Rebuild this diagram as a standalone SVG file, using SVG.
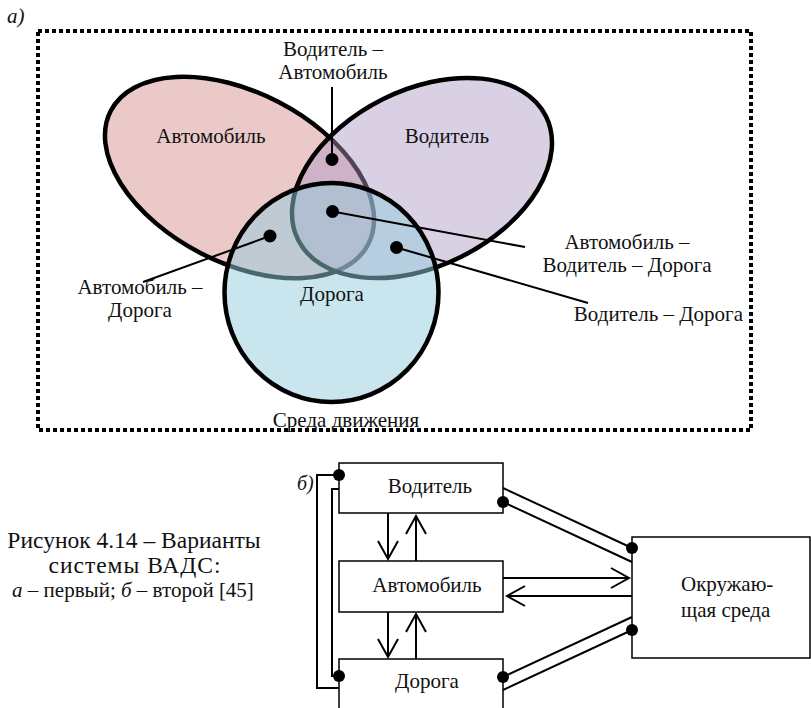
<svg xmlns="http://www.w3.org/2000/svg" width="811" height="708" viewBox="0 0 811 708">
  <style>
    text { font-family: "Liberation Serif", "Times New Roman", serif; font-size: 21px; fill: #111; }
    .mid { text-anchor: middle; }
    .it { font-style: italic; }
    .set { stroke: #000; stroke-width: 4.5; }
    .lead { stroke: #000; stroke-width: 2; fill: none; }
    .box { fill: #fff; stroke: #000; stroke-width: 1.5; }
    .wire { stroke: #000; stroke-width: 2; fill: none; }
    .dot { fill: #000; }
  </style>
  <defs>
    <marker id="openArrow" markerUnits="userSpaceOnUse" markerWidth="24" markerHeight="24" viewBox="-20 -12 24 24" refX="0" refY="0" orient="auto">
      <path d="M-18,-10 L0,0 L-18,10" fill="none" stroke="#000" stroke-width="2"/>
    </marker>
  </defs>

  <!-- (a) Venn diagram of the system -->
  <text id="label-a" class="it" x="7" y="23">а)</text>
  <rect id="environment" x="38" y="31" width="713" height="399" fill="none" stroke="#000" stroke-width="4" stroke-dasharray="4 3"/>

  <g id="set-car">
    <ellipse cx="239.5" cy="177.5" rx="145" ry="85" transform="rotate(27.4 239.5 177.5)" fill="#ecc9c9" class="set"/>
  </g>
  <g id="set-driver">
    <ellipse cx="422" cy="178" rx="138.5" ry="88" transform="rotate(-26.5 422 178)" fill="rgb(171,151,196)" fill-opacity="0.45" class="set"/>
  </g>
  <g id="set-road">
    <ellipse cx="331.5" cy="292.5" rx="107" ry="109.5" fill="rgb(147,203,219)" fill-opacity="0.5" class="set"/>
  </g>

  <g id="venn-labels">
    <text class="mid" x="211" y="143">Автомобиль</text>
    <text class="mid" x="447" y="143">Водитель</text>
    <text class="mid" x="332" y="301">Дорога</text>
    <text class="mid" x="346" y="427">Среда движения</text>
  </g>

  <g id="venn-leaders">
    <line class="lead" x1="332" y1="87" x2="332" y2="159"/>
    <line class="lead" x1="332.5" y1="211.5" x2="525" y2="247"/>
    <line class="lead" x1="270" y1="236" x2="143" y2="282"/>
    <line class="lead" x1="396.5" y1="247.5" x2="588" y2="303"/>
    <circle class="dot" cx="332" cy="159.5" r="6.5"/>
    <circle class="dot" cx="332.5" cy="211.5" r="6.5"/>
    <circle class="dot" cx="270" cy="236" r="6.5"/>
    <circle class="dot" cx="396.5" cy="247.5" r="6.5"/>
  </g>

  <g id="leader-labels">
    <text class="mid" x="333" y="56">Водитель –</text>
    <text class="mid" x="333" y="79">Автомобиль</text>
    <text class="mid" x="627" y="249">Автомобиль –</text>
    <text class="mid" x="627" y="272">Водитель – Дорога</text>
    <text x="743" y="321" text-anchor="end">Водитель – Дорога</text>
    <text class="mid" x="140" y="294">Автомобиль –</text>
    <text class="mid" x="140" y="317">Дорога</text>
  </g>

  <!-- caption -->
  <g id="caption">
    <text class="mid" x="134" y="548" style="font-size:23.5px">Рисунок 4.14 – Варианты</text>
    <text class="mid" x="135" y="573" style="font-size:23.5px;letter-spacing:1px">системы ВАДС:</text>
    <text class="mid" x="133" y="597" style="font-size:21px"><tspan class="it">а</tspan> – первый; <tspan class="it">б</tspan> – второй [45]</text>
  </g>

  <!-- (b) block scheme -->
  <text id="label-b" class="it" x="297" y="490" style="font-size:20px">б)</text>

  <g id="connectors">
    <!-- feedback loop Driver / Road on the left -->
    <polyline class="wire" points="339,475 317,475 317,688 339,688"/>
    <polyline class="wire" points="339,489 332,489 332,676 339,676"/>
    <!-- Driver ↔ Car -->
    <line class="wire" x1="388" y1="513" x2="388" y2="559" marker-end="url(#openArrow)"/>
    <line class="wire" x1="416" y1="561" x2="416" y2="516" marker-end="url(#openArrow)"/>
    <!-- Car ↔ Road -->
    <line class="wire" x1="388" y1="612" x2="388" y2="657" marker-end="url(#openArrow)"/>
    <line class="wire" x1="416" y1="659" x2="416" y2="614" marker-end="url(#openArrow)"/>
    <!-- Car ↔ Environment -->
    <line class="wire" x1="503" y1="578" x2="629" y2="578" marker-end="url(#openArrow)"/>
    <line class="wire" x1="632" y1="596" x2="507" y2="596" marker-end="url(#openArrow)"/>
    <!-- Driver = Environment -->
    <line class="wire" x1="503" y1="488" x2="632" y2="548"/>
    <line class="wire" x1="503" y1="502" x2="632" y2="562"/>
    <!-- Road = Environment -->
    <line class="wire" x1="503" y1="677" x2="632" y2="617"/>
    <line class="wire" x1="503" y1="690" x2="632" y2="630"/>
  </g>

  <g id="node-driver">
    <rect class="box" x="339" y="463" width="164" height="50"/>
    <text class="mid" x="430" y="493">Водитель</text>
  </g>
  <g id="node-car">
    <rect class="box" x="339" y="561" width="164" height="51"/>
    <text class="mid" x="427" y="592">Автомобиль</text>
  </g>
  <g id="node-road">
    <rect class="box" x="339" y="659" width="164" height="60"/>
    <text class="mid" x="427" y="688">Дорога</text>
  </g>
  <g id="node-environment">
    <rect class="box" x="632" y="537" width="178" height="121"/>
    <text x="681" y="591">Окружаю-</text>
    <text x="681" y="617">щая среда</text>
  </g>

  <g id="junctions">
    <circle class="dot" cx="339" cy="475" r="6"/>
    <circle class="dot" cx="339" cy="676" r="6"/>
    <circle class="dot" cx="503" cy="502" r="6"/>
    <circle class="dot" cx="632" cy="548" r="6"/>
    <circle class="dot" cx="503" cy="677" r="6"/>
    <circle class="dot" cx="632" cy="630" r="6"/>
  </g>
</svg>
